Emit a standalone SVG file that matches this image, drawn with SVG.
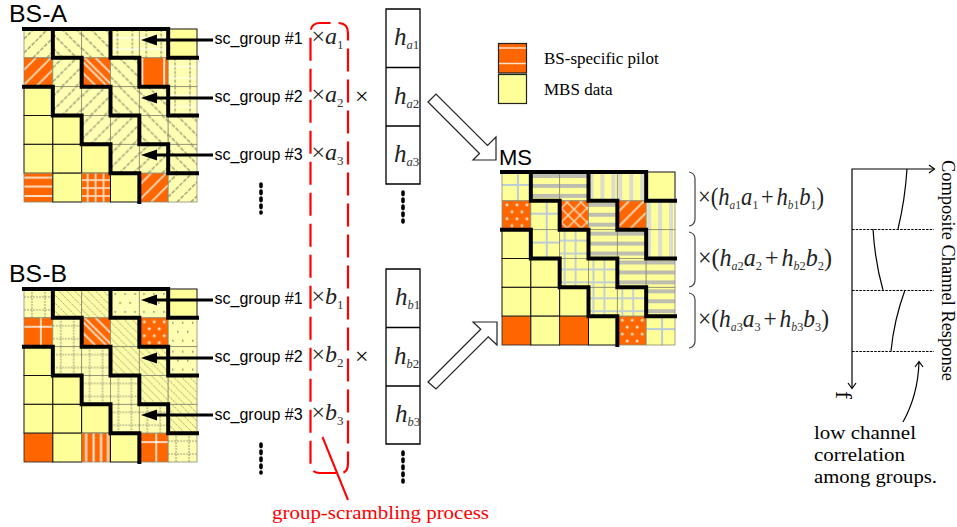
<svg xmlns="http://www.w3.org/2000/svg" width="957" height="527" viewBox="0 0 957 527">
<style>
.c{width:29px;height:29px;stroke:#8a8a70;stroke-width:.8}
.p{fill:#ffff99;stroke:#111;stroke-width:1}
.oo{fill:#ff6600;stroke:#222;stroke-width:.8}
.dU{fill:url(#dU)}.dD{fill:url(#dD)}.dV{fill:url(#dV)}
.fD{fill:url(#fD)}.fG{fill:url(#fG)}.fP{fill:url(#fP)}
.oU{fill:url(#oU)}.oD{fill:url(#oD)}.oV{fill:url(#oV)}.oH{fill:url(#oH)}.oG{fill:url(#oG)}.oC{fill:url(#oC)}.oX{fill:url(#oX)}.oP{fill:url(#oP)}.oS{fill:url(#oS)}
.mG{fill:url(#mG)}.mC{fill:url(#mC)}.mH{fill:url(#mH)}.mV{fill:url(#mV)}
.san{font-family:"Liberation Sans",Arial,sans-serif;fill:#000}
.ser{font-family:"Liberation Serif","Times New Roman",serif;fill:#000}
.big{font-size:24px}.sc{font-size:16px}
.m{font-size:25px;font-style:italic;fill:#222}.mu{font-style:normal}
.k{font-size:24px;font-style:italic;fill:#222}
.s{font-size:13px;font-style:normal;fill:#333}
.si{font-size:12.5px;font-style:italic;fill:#333}
.ln{fill:none;stroke:#000;stroke-width:1.2}
.box{fill:#fff;stroke:#000;stroke-width:1.3}
.blk{fill:#fff;stroke:#222;stroke-width:1.2}
.arr{stroke:#000;stroke-width:3;fill:none}
.hd{fill:#000}
.dots{fill:none;stroke:#000;stroke-width:3.6;stroke-dasharray:2.6 4.4;stroke-linecap:round}
.dash{fill:none;stroke:#000;stroke-width:1;stroke-dasharray:2.5 1.2}
.brace{fill:none;stroke:#444;stroke-width:1.2}
</style>
<defs>
<pattern id="dU" width="1" height="1" viewBox="0 0 29 29"><rect width="29" height="29" fill="#ffffb4"/><path d="M0 10L10 0M0 24L24 0M5 33L33 5M19 33L33 19" stroke="#a6a67c" stroke-width="1.6" stroke-dasharray="4 1.4" fill="none"/></pattern>
<pattern id="dD" width="1" height="1" viewBox="0 0 29 29"><rect width="29" height="29" fill="#ffffb4"/><path d="M0 19L10 29M0 5L24 29M5 -4L33 24M19 -4L33 10" stroke="#a6a67c" stroke-width="1.6" stroke-dasharray="4 1.4" fill="none"/></pattern>
<pattern id="dV" width="1" height="1" viewBox="0 0 29 29"><rect width="29" height="29" fill="#ffffb4"/><path d="M7 0V29M22 0V29" stroke="#a6a67c" stroke-width="1.5" stroke-dasharray="3 1.4" fill="none"/><path d="M0 9H29M0 20H29" stroke="#fff" stroke-width="1"/></pattern>
<pattern id="fD" width="1" height="1" viewBox="0 0 29 29"><rect width="29" height="29" fill="#fbfba8"/><path d="M0 4L25 29M0 12L17 29M0 20L9 29M4 0L33 29M12 0L33 21M20 0L33 13M28 0L33 5" stroke="#a8a878" stroke-width="1" stroke-dasharray="2.5 1" fill="none"/></pattern>
<pattern id="fG" width="1" height="1" viewBox="0 0 29 29"><rect width="29" height="29" fill="#ffffb4"/><path d="M8 0V29M21 0V29M0 8H29M0 21H29" stroke="#9c9c78" stroke-width="1.1" stroke-dasharray="2 1" fill="none"/></pattern>
<pattern id="fP" width="1" height="1" viewBox="0 0 29 29"><rect width="29" height="29" fill="#ffffb4"/><path d="M4 5h1.4M14 5h1.4M24 5h1.4M9 14h1.4M19 14h1.4M4 23h1.4M14 23h1.4M24 23h1.4" stroke="#77775a" stroke-width="1.4" fill="none"/></pattern>
<pattern id="oU" width="1" height="1" viewBox="0 0 29 29"><rect width="29" height="29" fill="#ff6600"/><path d="M0 12L12 0M0 27L27 0M12 29L29 12" stroke="#ffd8b8" stroke-width="1.8" fill="none"/></pattern>
<pattern id="oD" width="1" height="1" viewBox="0 0 29 29"><rect width="29" height="29" fill="#ff6600"/><path d="M0 3L26 29M0 14L15 29M3 0L32 29M14 0L32 18" stroke="#ffe0c8" stroke-width="1.8" fill="none"/></pattern>
<pattern id="oV" width="1" height="1" viewBox="0 0 29 29"><rect width="29" height="29" fill="#ff6600"/><path d="M3 0V29M25 0V29" stroke="#ffe0c8" stroke-width="2" fill="none"/></pattern>
<pattern id="oS" width="1" height="1" viewBox="0 0 29 29"><rect width="29" height="29" fill="#ff6600"/><path d="M4.5 0V29M12 0V29M19.5 0V29M26.5 0V29" stroke="#ffe8d8" stroke-width="2.2" fill="none"/></pattern>
<pattern id="oH" width="1" height="1" viewBox="0 0 29 29"><rect width="29" height="29" fill="#ff6600"/><path d="M0 4.5H29M0 13.5H29M0 23H29" stroke="#ffe0c8" stroke-width="1.8" fill="none"/></pattern>
<pattern id="oG" width="1" height="1" viewBox="0 0 29 29"><rect width="29" height="29" fill="#ff6600"/><path d="M6 0V29M14 0V29M22 0V29M0 7H29M0 15H29M0 23H29" stroke="#ffeada" stroke-width="1.6" fill="none"/></pattern>
<pattern id="oC" width="1" height="1" viewBox="0 0 29 29"><rect width="29" height="29" fill="#ff6600"/><path d="M17 0V29M0 9H29" stroke="#fff" stroke-width="1.5" fill="none"/></pattern>
<pattern id="oX" width="1" height="1" viewBox="0 0 29 29"><rect width="29" height="29" fill="#ff6600"/><path d="M0 9L9 0M0 23L23 0M6 29L29 6M20 29L29 20M0 20L9 29M0 6L23 29M6 0L29 23M20 0L29 9" stroke="#ffdcc0" stroke-width="1.4" fill="none"/></pattern>
<pattern id="oP" width="1" height="1" viewBox="0 0 29 29"><rect width="29" height="29" fill="#ff6600"/><g fill="#ffe0c8"><circle cx="5" cy="4" r="1.5"/><circle cx="15" cy="4" r="1.5"/><circle cx="25" cy="4" r="1.5"/><circle cx="10" cy="11" r="1.5"/><circle cx="20" cy="11" r="1.5"/><circle cx="5" cy="18" r="1.5"/><circle cx="15" cy="18" r="1.5"/><circle cx="25" cy="18" r="1.5"/><circle cx="10" cy="25" r="1.5"/><circle cx="20" cy="25" r="1.5"/></g></pattern>
<pattern id="mG" width="1" height="1" viewBox="0 0 29 29"><rect width="29" height="29" fill="#ffff99"/><path d="M16 0V29M0 11H29M0 24H29M5 0V29" stroke="#bccbd8" stroke-width="2" fill="none" opacity=".9"/></pattern>
<pattern id="mC" width="1" height="1" viewBox="0 0 29 29"><rect width="29" height="29" fill="#ffff99"/><path d="M16 0V29M0 13H29" stroke="#bccbd8" stroke-width="2" fill="none"/></pattern>
<pattern id="mH" width="1" height="1" viewBox="0 0 29 29"><rect width="29" height="29" fill="#ffff99"/><path d="M0 4H29M0 14H29M0 24H29" stroke="#bdbdb0" stroke-width="4" fill="none"/></pattern>
<pattern id="mV" width="1" height="1" viewBox="0 0 29 29"><rect width="29" height="29" fill="#ffff99"/><path d="M3 0V29M14 0V29M25 0V29" stroke="#dcdcd0" stroke-width="4" fill="none"/></pattern>
<path id="steps" d="M0 0H145V29H174M29 0V29H58V58H87V87H116V116H145V145H174M87 0V29H116V58H145V87H174M0 58H29V87H58V116H87V145H116V174" fill="none" stroke="#000" stroke-width="4" stroke-linecap="square"/>
</defs>
<rect width="957" height="527" fill="#fff"/>

<g id="bs-a">
<text class="san big" x="9" y="21.5" textLength="58" lengthAdjust="spacingAndGlyphs">BS-A</text>
<g transform="translate(24,29) scale(.9943)">
<rect class="c dU" x="0" y="0"/><rect class="c dD" x="29" y="0"/><rect class="c dD" x="58" y="0"/><rect class="c dV" x="87" y="0"/><rect class="c dV" x="116" y="0"/><rect class="c p" x="145" y="0"/>
<rect class="c oU" x="0" y="29"/><rect class="c dU" x="29" y="29"/><rect class="c oD" x="58" y="29"/><rect class="c dD" x="87" y="29"/><rect class="c oV" x="116" y="29"/><rect class="c dV" x="145" y="29"/>
<rect class="c p" x="0" y="58"/><rect class="c dU" x="29" y="58"/><rect class="c dU" x="58" y="58"/><rect class="c dD" x="87" y="58"/><rect class="c dD" x="116" y="58"/><rect class="c dV" x="145" y="58"/>
<rect class="c p" x="0" y="87"/><rect class="c p" x="29" y="87"/><rect class="c dU" x="58" y="87"/><rect class="c dU" x="87" y="87"/><rect class="c dD" x="116" y="87"/><rect class="c dD" x="145" y="87"/>
<rect class="c p" x="0" y="116"/><rect class="c p" x="29" y="116"/><rect class="c p" x="58" y="116"/><rect class="c dU" x="87" y="116"/><rect class="c dU" x="116" y="116"/><rect class="c dD" x="145" y="116"/>
<rect class="c oH" x="0" y="145"/><rect class="c p" x="29" y="145"/><rect class="c oG" x="58" y="145"/><rect class="c p" x="87" y="145"/><rect class="c oU" x="116" y="145"/><rect class="c dU" x="145" y="145"/>
<use href="#steps"/>
</g>
</g>

<g id="bs-b">
<text class="san big" x="9" y="281.5" textLength="58" lengthAdjust="spacingAndGlyphs">BS-B</text>
<g transform="translate(24,289) scale(.9943)">
<rect class="c fG" x="0" y="0"/><rect class="c fD" x="29" y="0"/><rect class="c fD" x="58" y="0"/><rect class="c fP" x="87" y="0"/><rect class="c fP" x="116" y="0"/><rect class="c p" x="145" y="0"/>
<rect class="c oC" x="0" y="29"/><rect class="c fG" x="29" y="29"/><rect class="c oD" x="58" y="29"/><rect class="c fD" x="87" y="29"/><rect class="c oP" x="116" y="29"/><rect class="c fP" x="145" y="29"/>
<rect class="c p" x="0" y="58"/><rect class="c fG" x="29" y="58"/><rect class="c fG" x="58" y="58"/><rect class="c fD" x="87" y="58"/><rect class="c fD" x="116" y="58"/><rect class="c fP" x="145" y="58"/>
<rect class="c p" x="0" y="87"/><rect class="c p" x="29" y="87"/><rect class="c fG" x="58" y="87"/><rect class="c fG" x="87" y="87"/><rect class="c fD" x="116" y="87"/><rect class="c fD" x="145" y="87"/>
<rect class="c p" x="0" y="116"/><rect class="c p" x="29" y="116"/><rect class="c p" x="58" y="116"/><rect class="c fG" x="87" y="116"/><rect class="c fG" x="116" y="116"/><rect class="c fD" x="145" y="116"/>
<rect class="c oo" x="0" y="145"/><rect class="c p" x="29" y="145"/><rect class="c oS" x="58" y="145"/><rect class="c p" x="87" y="145"/><rect class="c oC" x="116" y="145"/><rect class="c fG" x="145" y="145"/>
<use href="#steps"/>
</g>
</g>

<g id="ms">
<text class="san" font-size="22" x="499" y="165">MS</text>
<g transform="translate(502,172) scale(.9943)">
<rect class="c mC" x="0" y="0"/><rect class="c mH" x="29" y="0"/><rect class="c mH" x="58" y="0"/><rect class="c mV" x="87" y="0"/><rect class="c mV" x="116" y="0"/><rect class="c p" x="145" y="0"/>
<rect class="c oP" x="0" y="29"/><rect class="c mC" x="29" y="29"/><rect class="c oX" x="58" y="29"/><rect class="c mH" x="87" y="29"/><rect class="c oU" x="116" y="29"/><rect class="c mV" x="145" y="29"/>
<rect class="c p" x="0" y="58"/><rect class="c mC" x="29" y="58"/><rect class="c mG" x="58" y="58"/><rect class="c mH" x="87" y="58"/><rect class="c mH" x="116" y="58"/><rect class="c mV" x="145" y="58"/>
<rect class="c p" x="0" y="87"/><rect class="c p" x="29" y="87"/><rect class="c mG" x="58" y="87"/><rect class="c mG" x="87" y="87"/><rect class="c mH" x="116" y="87"/><rect class="c mH" x="145" y="87"/>
<rect class="c p" x="0" y="116"/><rect class="c p" x="29" y="116"/><rect class="c p" x="58" y="116"/><rect class="c mG" x="87" y="116"/><rect class="c mG" x="116" y="116"/><rect class="c mH" x="145" y="116"/>
<rect class="c oo" x="0" y="145"/><rect class="c p" x="29" y="145"/><rect class="c oo" x="58" y="145"/><rect class="c p" x="87" y="145"/><rect class="c oP" x="116" y="145"/><rect class="c mC" x="145" y="145"/>
<use href="#steps"/>
</g>
</g>

<g id="legend">
<rect x="498.500" y="43.500" width="28" height="29.500" fill="#ff6600" stroke="#222" stroke-width="1.200"/>
<path d="M499 48H526M499 63.500H526" stroke="#ffe0c8" stroke-width="1.500"/>
<rect x="498.500" y="74.500" width="28" height="29" fill="#ffff99" stroke="#222" stroke-width="1.200"/>
<text class="ser" font-size="17" x="544" y="64">BS-specific pilot</text>
<text class="ser" font-size="17" x="544" y="95">MBS data</text>
</g>

<g id="labels-a">
<text class="san sc" x="214.500" y="44">sc_group #1</text>
<text class="san sc" x="214.500" y="102">sc_group #2</text>
<text class="san sc" x="214.500" y="160">sc_group #3</text>
<text class="ser k" x="311.500" y="44"><tspan class="mu">×</tspan>a<tspan class="s" dy="5">1</tspan></text>
<text class="ser k" x="311.500" y="102"><tspan class="mu">×</tspan>a<tspan class="s" dy="5">2</tspan></text>
<text class="ser k" x="311.500" y="160"><tspan class="mu">×</tspan>a<tspan class="s" dy="5">3</tspan></text>
<text class="ser" font-size="24" x="355" y="104">×</text>
</g>

<g id="labels-b">
<text class="san sc" x="214.500" y="304">sc_group #1</text>
<text class="san sc" x="214.500" y="362">sc_group #2</text>
<text class="san sc" x="214.500" y="420">sc_group #3</text>
<text class="ser k" x="311.500" y="304"><tspan class="mu">×</tspan>b<tspan class="s" dy="5">1</tspan></text>
<text class="ser k" x="311.500" y="362"><tspan class="mu">×</tspan>b<tspan class="s" dy="5">2</tspan></text>
<text class="ser k" x="311.500" y="420"><tspan class="mu">×</tspan>b<tspan class="s" dy="5">3</tspan></text>
<text class="ser" font-size="24" x="355" y="364">×</text>
</g>

<g id="channel-a">
<path class="box" d="M386 9H420V184H386ZM386 67.500H420M386 126H420"/>
<text class="ser m" x="394" y="45">h<tspan class="si" dy="4">a</tspan><tspan class="s">1</tspan></text>
<text class="ser m" x="394" y="104">h<tspan class="si" dy="4">a</tspan><tspan class="s">2</tspan></text>
<text class="ser m" x="394" y="162">h<tspan class="si" dy="4">a</tspan><tspan class="s">3</tspan></text>
</g>

<g id="channel-b">
<path class="box" d="M386 269H420V444H386ZM386 327.500H420M386 386H420"/>
<text class="ser m" x="395" y="305">h<tspan class="si" dy="4">b</tspan><tspan class="s">1</tspan></text>
<text class="ser m" x="394" y="364">h<tspan class="si" dy="4">b</tspan><tspan class="s">2</tspan></text>
<text class="ser m" x="395" y="422">h<tspan class="si" dy="4">b</tspan><tspan class="s">3</tspan></text>
</g>

<g id="connectors">
<path class="arr" d="M213 40H155M213 98H155M213 155H155M213 300H155M213 358H155M213 415H155"/>
<path class="hd" d="M141 40L157 34.500V45.500ZM141 98L157 92.500V103.500ZM141 155L157 149.500V160.500ZM141 300L157 294.500V305.500ZM141 358L157 352.500V363.500ZM141 415L157 409.500V420.500Z"/>
<path class="dots" d="M261 184V213M403 192V222M261 444V473M403 452V482"/>
<polygon class="blk" points="428,102 436,94 487.500,145.500 496,137 496,160 473,160 479.500,153.500"/>
<polygon class="blk" points="428,382 436,389 488.250,336.750 497,345 497,322 473,322 480.750,329.250"/>
<path d="M336 473H320Q310.500 473 310.500 463V33Q310.500 23 320 23H338Q348 23 348 33V463Q348 473 341 473" fill="none" stroke="#f00" stroke-width="2.200" stroke-dasharray="23 8"/>
<path d="M322.500 437L348 500" stroke="#f00" stroke-width="2"/>
<path class="brace" d="M689 172Q695 173 695 179V219Q695 225 689 226M689 232Q695 233 695 239V280Q695 286 689 287M689 293Q695 294 695 300V341Q695 347 689 348"/>
<path class="ln" d="M934 169H852V388"/>
<path class="ln" d="M929 165L934.500 169L929 173M848 383L852 388.500L856 383"/>
<path class="dash" d="M852 229.500H934M852 290.500H934M852 351.500H934"/>
<path class="ln" d="M907 169Q905 200 898 229M873 229Q875 262 883 290M905 290Q894 320 891 351"/>
<path class="ln" d="M903 422Q918 395 919 362M915 367L919 361.500L923 367"/>
</g>

<g id="equations">
<text class="ser m" x="698" y="205" textLength="126" lengthAdjust="spacingAndGlyphs"><tspan class="mu">×(</tspan>h<tspan class="si" dy="4">a</tspan><tspan class="s">1</tspan><tspan dy="-4">a</tspan><tspan class="s" dy="4">1</tspan><tspan class="mu" dx="3" dy="-4">+</tspan><tspan dx="3">h</tspan><tspan class="si" dy="4">b</tspan><tspan class="s">1</tspan><tspan dy="-4">b</tspan><tspan class="s" dy="4">1</tspan><tspan class="mu" dy="-4">)</tspan></text>
<text class="ser m" x="698" y="266" textLength="134" lengthAdjust="spacingAndGlyphs"><tspan class="mu">×(</tspan>h<tspan class="si" dy="4">a</tspan><tspan class="s">2</tspan><tspan dy="-4">a</tspan><tspan class="s" dy="4">2</tspan><tspan class="mu" dx="3" dy="-4">+</tspan><tspan dx="3">h</tspan><tspan class="si" dy="4">b</tspan><tspan class="s">2</tspan><tspan dy="-4">b</tspan><tspan class="s" dy="4">2</tspan><tspan class="mu" dy="-4">)</tspan></text>
<text class="ser m" x="698" y="327" textLength="131" lengthAdjust="spacingAndGlyphs"><tspan class="mu">×(</tspan>h<tspan class="si" dy="4">a</tspan><tspan class="s">3</tspan><tspan dy="-4">a</tspan><tspan class="s" dy="4">3</tspan><tspan class="mu" dx="3" dy="-4">+</tspan><tspan dx="3">h</tspan><tspan class="si" dy="4">b</tspan><tspan class="s">3</tspan><tspan dy="-4">b</tspan><tspan class="s" dy="4">3</tspan><tspan class="mu" dy="-4">)</tspan></text>
</g>

<g id="annotations">
<text class="ser" font-size="18" style="fill:#f00" x="272" y="519" textLength="217" lengthAdjust="spacingAndGlyphs">group-scrambling process</text>
<text class="ser" font-size="18" transform="translate(942,160) rotate(90)" textLength="221" lengthAdjust="spacingAndGlyphs">Composite Channel Response</text>
<text class="ser" font-size="24" transform="translate(836,391) rotate(90)">f</text>
<text class="ser" font-size="18" x="814" y="439" textLength="102" lengthAdjust="spacingAndGlyphs">low channel</text>
<text class="ser" font-size="18" x="814" y="461" textLength="91" lengthAdjust="spacingAndGlyphs">correlation</text>
<text class="ser" font-size="18" x="814" y="483" textLength="123" lengthAdjust="spacingAndGlyphs">among groups.</text>
</g>
</svg>
